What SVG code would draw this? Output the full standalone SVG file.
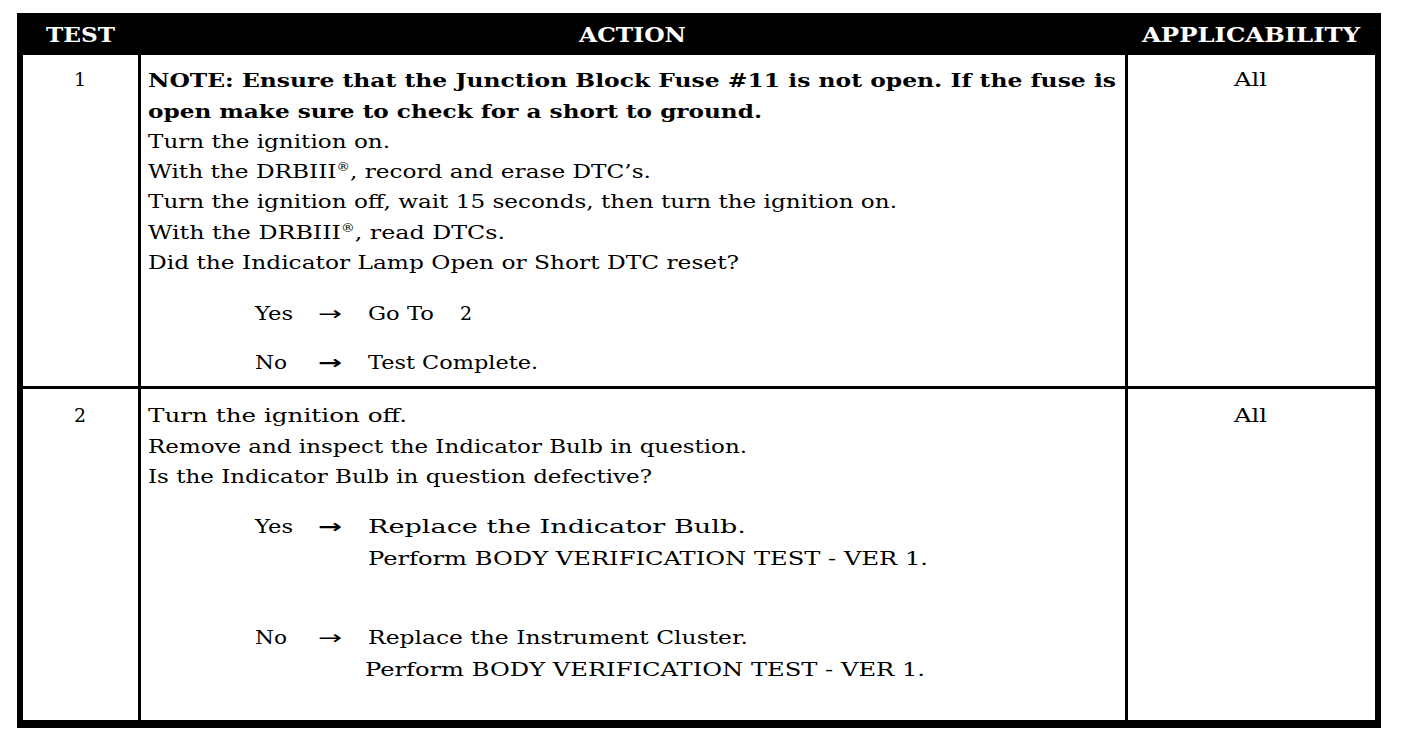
<svg xmlns="http://www.w3.org/2000/svg" width="1408" height="740" viewBox="0 0 1408 740">
<style>
  .t { font-family: "DejaVu Serif", "Liberation Serif", serif; font-size: 19px; fill: #000; }
  .b { font-weight: bold; }
  .c { text-anchor: middle; }
  .h { font-family: "DejaVu Serif", "Liberation Serif", serif; font-size: 20px; font-weight: bold; fill: #fff; }
  .ar { font-family: "DejaVu Sans", sans-serif; font-size: 19px; fill: #000; }
  .sup { font-size: 11px; }
</style>
<rect width="1408" height="740" fill="#fff"/>
<g id="frame">
  <rect x="17" y="13" width="1364" height="42" fill="#000"/>
  <rect x="17" y="13" width="6" height="715" fill="#000"/>
  <rect x="1375" y="13" width="6" height="715" fill="#000"/>
  <rect x="17" y="720" width="1364" height="8" fill="#000"/>
  <rect x="138" y="13" width="3" height="710" fill="#000"/>
  <rect x="1125" y="13" width="3" height="710" fill="#000"/>
  <rect x="17" y="386" width="1364" height="3" fill="#000"/>
</g>
<g id="header">
  <text class="h" x="46" y="42" textLength="69" lengthAdjust="spacingAndGlyphs">TEST</text>
  <text class="h" x="579" y="42" textLength="107" lengthAdjust="spacingAndGlyphs">ACTION</text>
  <text class="h" x="1142" y="42" textLength="218" lengthAdjust="spacingAndGlyphs">APPLICABILITY</text>
</g>
<g id="row1">
  <text class="t c" x="80" y="86">1</text>
  <text class="t" x="1234" y="86" textLength="33" lengthAdjust="spacingAndGlyphs">All</text>
  <text class="t b" x="148" y="87" textLength="968" lengthAdjust="spacingAndGlyphs">NOTE: Ensure that the Junction Block Fuse #11 is not open. If the fuse is</text>
  <text class="t b" x="148" y="118" textLength="614" lengthAdjust="spacingAndGlyphs">open make sure to check for a short to ground.</text>
  <text class="t" x="148" y="148" textLength="242" lengthAdjust="spacingAndGlyphs">Turn the ignition on.</text>
  <text class="t" x="148" y="178" textLength="503" lengthAdjust="spacingAndGlyphs">With the DRBIII<tspan class="sup" dy="-7">®</tspan><tspan dy="7">, record and erase DTC’s.</tspan></text>
  <text class="t" x="148" y="208" textLength="749" lengthAdjust="spacingAndGlyphs">Turn the ignition off, wait 15 seconds, then turn the ignition on.</text>
  <text class="t" x="148" y="239" textLength="357" lengthAdjust="spacingAndGlyphs">With the DRBIII<tspan class="sup" dy="-7">®</tspan><tspan dy="7">, read DTCs.</tspan></text>
  <text class="t" x="148" y="269" textLength="591" lengthAdjust="spacingAndGlyphs">Did the Indicator Lamp Open or Short DTC reset?</text>
  <text class="t" x="255" y="320" textLength="38" lengthAdjust="spacingAndGlyphs">Yes</text>
  <text class="ar" x="318" y="320" textLength="24" lengthAdjust="spacingAndGlyphs">→</text>
  <text class="t" x="368" y="320" textLength="66" lengthAdjust="spacingAndGlyphs">Go To</text>
  <text class="t c" x="466" y="320">2</text>
  <text class="t" x="255" y="369" textLength="32" lengthAdjust="spacingAndGlyphs">No</text>
  <text class="ar b" x="318" y="369" textLength="24" lengthAdjust="spacingAndGlyphs">→</text>
  <text class="t" x="368" y="369" textLength="170" lengthAdjust="spacingAndGlyphs">Test Complete.</text>
</g>
<g id="row2">
  <text class="t c" x="80" y="422">2</text>
  <text class="t" x="1234" y="422" textLength="33" lengthAdjust="spacingAndGlyphs">All</text>
  <text class="t" x="148" y="422" textLength="259" lengthAdjust="spacingAndGlyphs">Turn the ignition off.</text>
  <text class="t" x="148" y="453" textLength="599" lengthAdjust="spacingAndGlyphs">Remove and inspect the Indicator Bulb in question.</text>
  <text class="t" x="148" y="483" textLength="504" lengthAdjust="spacingAndGlyphs">Is the Indicator Bulb in question defective?</text>
  <text class="t" x="255" y="533" textLength="38" lengthAdjust="spacingAndGlyphs">Yes</text>
  <text class="ar b" x="318" y="533" textLength="24" lengthAdjust="spacingAndGlyphs">→</text>
  <text class="t" x="368" y="533" textLength="378" lengthAdjust="spacingAndGlyphs">Replace the Indicator Bulb.</text>
  <text class="t" x="368" y="565" textLength="560" lengthAdjust="spacingAndGlyphs">Perform BODY VERIFICATION TEST - VER 1.</text>
  <text class="t" x="255" y="644" textLength="32" lengthAdjust="spacingAndGlyphs">No</text>
  <text class="ar" x="318" y="644" textLength="24" lengthAdjust="spacingAndGlyphs">→</text>
  <text class="t" x="368" y="644" textLength="380" lengthAdjust="spacingAndGlyphs">Replace the Instrument Cluster.</text>
  <text class="t" x="365" y="676" textLength="560" lengthAdjust="spacingAndGlyphs">Perform BODY VERIFICATION TEST - VER 1.</text>
</g>
</svg>
